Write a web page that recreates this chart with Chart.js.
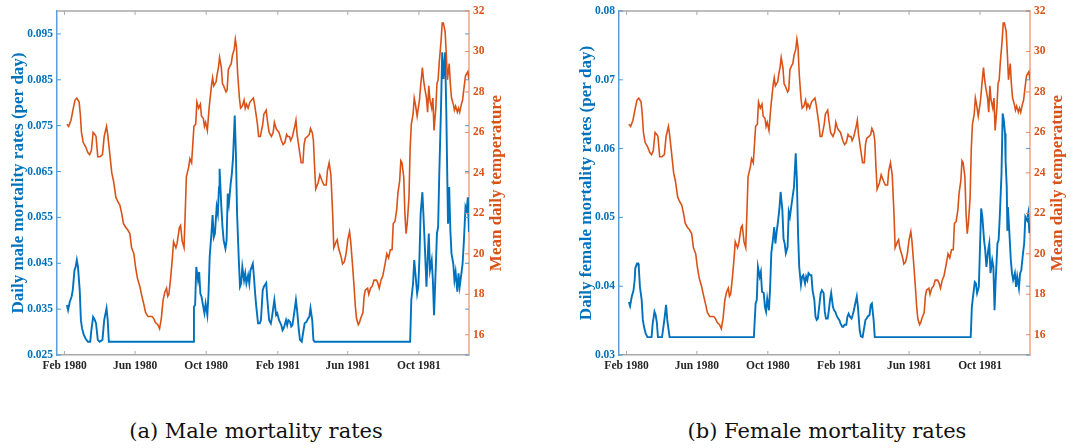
<!DOCTYPE html>
<html>
<head>
<meta charset="utf-8">
<script src="https://cdn.jsdelivr.net/npm/chart.js@4.4.1/dist/chart.umd.min.js"></script>
<style>
  body { margin: 0; background: #fff; width: 1092px; height: 448px; position: relative; overflow: hidden; }
  .panel { position: absolute; top: 0; width: 546px; height: 380px; }
  .caption { position: absolute; top: 418px; width: 400px; text-align: center;
    font-family: "DejaVu Serif", serif; font-size: 21px; line-height: 26px; color: #111; }
</style>
</head>
<body>
<div class="panel" style="left:0"><canvas id="male" width="546" height="380"></canvas></div>
<div class="panel" style="left:546px"><canvas id="female" width="546" height="380"></canvas></div>
<div class="caption" style="left:56px">(a) Male mortality rates</div>
<div class="caption" style="left:627px">(b) Female mortality rates</div>
<script>
// x values are days counted from 1 Feb 1980
const monthTickDays = [0, 121, 243, 366, 486, 608];
const monthTickLabels = ["Feb 1980", "Jun 1980", "Oct 1980", "Feb 1981", "Jun 1981", "Oct 1981"];

const tempTicks = [16, 18, 20, 22, 24, 26, 28, 30, 32];
const maleTicks = [0.025, 0.035, 0.045, 0.055, 0.065, 0.075, 0.085, 0.095];
const femaleTicks = [0.03, 0.04, 0.05, 0.06, 0.07, 0.08];

const tempDays = [
  4, 7, 11, 15, 18, 21, 25, 27, 29, 32, 36, 40,
  43, 46, 49, 52, 54, 57, 61, 65, 68, 72, 74, 77,
  81, 84, 88, 91, 95, 98, 101, 105, 108, 112, 115, 119,
  122, 125, 129, 132, 136, 139, 143, 146, 150, 153, 156, 160,
  163, 166, 169, 172, 175, 177, 179, 182, 185, 187, 191, 193,
  197, 199, 202, 205, 207, 209, 213, 215, 218, 222, 225, 227,
  230, 233, 235, 238, 240, 242, 245, 248, 252, 254, 256, 260,
  262, 264, 266, 269, 271, 273, 277, 279, 281, 284, 286, 288,
  291, 293, 295, 297, 300, 302, 305, 308, 310, 312, 315, 318,
  321, 324, 326, 328, 331, 333, 336, 340, 342, 346, 348, 351,
  355, 358, 360, 363, 365, 368, 372, 375, 378, 381, 383, 386,
  388, 391, 395, 397, 399, 403, 406, 409, 411, 413, 417, 420,
  422, 425, 427, 429, 431, 435, 438, 442, 445, 449, 451, 454,
  457, 460, 462, 466, 468, 470, 473, 475, 477, 480, 483, 486,
  489, 491, 494, 497, 499, 501, 504, 506, 508, 512, 514, 516,
  520, 522, 525, 528, 531, 535, 537, 540, 543, 546, 550, 553,
  556, 559, 562, 564, 567, 570, 572, 575, 577, 579, 582, 584,
  586, 588, 591, 593, 595, 598, 600, 602, 605, 607, 609, 611,
  614, 616, 618, 621, 623, 625, 627, 630, 632, 634, 637, 639,
  641, 643, 646, 648, 650, 653, 655, 657, 660, 662, 664, 667,
  669, 671, 674, 676, 678, 681, 683, 685, 688, 690, 692, 694
];
const tempValues = [
  26.4, 26.3, 26.6, 27.2, 27.6, 27.7, 27.5, 26.9, 26.0, 25.5, 25.3, 25.0,
  24.9, 25.1, 26.0, 25.9, 25.8, 24.8, 24.8, 24.9, 25.8, 26.3, 25.9, 25.1,
  24.0, 23.6, 22.8, 22.6, 22.4, 22.0, 21.5, 21.3, 21.2, 21.0, 20.3, 20.0,
  19.3, 18.8, 18.4, 18.0, 17.5, 17.1, 16.9, 16.9, 16.9, 16.8, 16.6, 16.5,
  16.3, 16.8, 17.7, 18.1, 18.3, 17.9, 18.0, 18.8, 19.8, 20.6, 20.3, 20.5,
  21.3, 21.4, 20.6, 20.3, 22.0, 23.8, 24.3, 24.7, 24.5, 26.3, 26.4, 27.5,
  27.2, 27.4, 26.8, 26.7, 26.3, 26.5, 26.1, 27.2, 28.3, 28.7, 28.3, 28.5,
  28.9, 29.2, 29.7, 29.2, 28.4, 28.3, 28.0, 28.1, 29.1, 29.3, 29.4, 29.8,
  30.1, 30.6, 30.2, 28.9, 27.7, 27.2, 27.3, 27.6, 27.2, 27.4, 27.2, 27.5,
  27.6, 27.7, 27.4, 27.0, 26.4, 25.8, 25.8, 26.4, 26.9, 27.1, 26.6, 26.0,
  25.8, 26.0, 26.5, 26.2, 26.1, 26.0, 25.6, 25.4, 25.5, 25.9, 25.8, 25.8,
  25.6, 25.8, 26.3, 26.6, 25.9, 25.1, 24.5, 24.5, 25.4, 25.7, 25.8, 25.9,
  26.2, 26.0, 25.6, 24.3, 23.2, 23.5, 23.9, 23.6, 23.4, 23.4, 24.1, 24.5,
  23.9, 22.0, 20.3, 20.6, 20.7, 20.3, 20.0, 19.8, 19.5, 19.6, 20.0, 20.7,
  21.1, 20.6, 19.5, 18.3, 17.4, 16.8, 16.5, 16.6, 16.8, 17.1, 17.9, 18.2,
  18.3, 18.0, 18.3, 18.4, 18.7, 18.7, 18.6, 18.3, 18.7, 18.9, 19.5, 20.0,
  19.8, 20.2, 20.2, 21.5, 21.6, 22.2, 23.0, 23.6, 24.6, 24.5, 23.8, 22.0,
  21.0, 21.5, 22.8, 25.2, 26.4, 26.9, 27.7, 27.4, 26.8, 27.2, 27.6, 28.3,
  29.2, 28.6, 28.2, 27.7, 27.0, 28.3, 27.6, 27.2, 27.7, 26.1, 27.2, 28.4,
  28.6, 29.5, 30.5, 31.4, 31.4, 31.0, 29.9, 28.6, 29.4, 28.4, 27.7, 27.4,
  27.1, 27.3, 27.0, 27.2, 27.0, 27.4, 27.6, 28.1, 28.8, 28.9, 29.0, 28.6
];

const maleDays = [
  4, 6, 9, 12, 14, 17, 19, 21, 23, 26, 28, 30,
  33, 36, 40, 44, 46, 49, 52, 54, 57, 60, 65, 68,
  72, 74, 76, 221, 222, 224, 226, 229, 231, 233, 235, 238,
  240, 242, 245, 247, 249, 252, 254, 256, 258, 261, 263, 265,
  266, 269, 271, 273, 276, 278, 280, 282, 285, 287, 289, 292,
  294, 296, 299, 301, 303, 305, 308, 310, 312, 315, 317, 319,
  323, 325, 327, 329, 332, 335, 337, 340, 342, 346, 348, 351,
  354, 356, 358, 360, 363, 365, 368, 372, 374, 376, 380, 382,
  384, 387, 389, 391, 394, 397, 399, 402, 404, 407, 410, 412,
  415, 418, 420, 422, 425, 427, 429, 593, 595, 598, 600, 602,
  605, 607, 609, 611, 614, 616, 618, 621, 623, 625, 627, 630,
  632, 634, 637, 639, 641, 643, 646, 648, 650, 653, 655, 657,
  658, 660, 662, 664, 667, 669, 671, 674, 676, 678, 681, 683,
  685, 688, 690, 692, 694
];
const maleRates = [
  0.0359, 0.0348, 0.0366, 0.0377, 0.0391, 0.0435, 0.0442, 0.0457, 0.0442, 0.0391, 0.0326, 0.0308,
  0.0294, 0.0286, 0.0279, 0.0279, 0.0304, 0.0333, 0.0326, 0.0319, 0.0283, 0.0279, 0.0283, 0.0326,
  0.0352, 0.0326, 0.0279, 0.0279, 0.0355, 0.0359, 0.0442, 0.0413, 0.0431, 0.0384, 0.0377, 0.0355,
  0.0341, 0.0362, 0.0337, 0.0384, 0.0464, 0.0515, 0.0555, 0.0507, 0.0515, 0.0573, 0.0558, 0.0616,
  0.0656, 0.0573, 0.0529, 0.0500, 0.0482, 0.0500, 0.0602, 0.0580, 0.0623, 0.0645, 0.0678, 0.0772,
  0.0689, 0.0558, 0.0457, 0.0399, 0.0406, 0.0442, 0.0413, 0.0428, 0.0406, 0.0424, 0.0406, 0.0435,
  0.0449, 0.0420, 0.0384, 0.0355, 0.0319, 0.0319, 0.0326, 0.0391, 0.0399, 0.0407, 0.0370, 0.0326,
  0.0319, 0.0333, 0.0352, 0.0370, 0.0337, 0.0341, 0.0326, 0.0315, 0.0304, 0.0308, 0.0326, 0.0315,
  0.0326, 0.0322, 0.0312, 0.0315, 0.0341, 0.0370, 0.0348, 0.0304, 0.0283, 0.0279, 0.0304, 0.0319,
  0.0322, 0.0330, 0.0333, 0.0352, 0.0326, 0.0283, 0.0279, 0.0279, 0.0370, 0.0406, 0.0457, 0.0428,
  0.0384, 0.0399, 0.0464, 0.0558, 0.0605, 0.0551, 0.0493, 0.0399, 0.0457, 0.0515, 0.0435, 0.0457,
  0.0413, 0.0337, 0.0442, 0.0515, 0.0529, 0.0645, 0.0790, 0.0910, 0.0852, 0.0910, 0.0783, 0.0616,
  0.0536, 0.0616, 0.0522, 0.0471, 0.0449, 0.0413, 0.0431, 0.0388, 0.0428, 0.0399, 0.0428, 0.0449,
  0.0493, 0.0573, 0.0565, 0.0594, 0.0518
];

const femaleDays = [
  4, 6, 9, 12, 14, 15, 18, 20, 21, 23, 26, 28,
  30, 33, 36, 43, 45, 48, 50, 52, 54, 61, 65, 68,
  70, 74, 219, 222, 224, 226, 229, 231, 233, 236, 238, 240,
  242, 245, 247, 249, 252, 254, 256, 258, 261, 263, 265, 268,
  270, 272, 274, 277, 279, 281, 284, 286, 288, 291, 293, 295,
  297, 300, 302, 304, 307, 309, 311, 313, 316, 318, 320, 323,
  325, 327, 329, 332, 334, 336, 339, 341, 343, 346, 348, 350,
  352, 355, 357, 359, 362, 364, 366, 368, 371, 373, 375, 378,
  380, 382, 384, 387, 389, 391, 394, 396, 398, 401, 403, 406,
  409, 411, 413, 415, 418, 420, 422, 425, 427, 592, 594, 596,
  599, 601, 603, 606, 608, 610, 612, 615, 617, 619, 622, 624,
  626, 629, 631, 633, 635, 638, 640, 642, 645, 647, 649, 651,
  652, 654, 655, 656, 658, 661, 663, 665, 668, 670, 672, 675,
  677, 679, 682, 684, 686, 689, 691, 693
];
const femaleRates = [
  0.0377, 0.0371, 0.0385, 0.0394, 0.0409, 0.0426, 0.0433, 0.0433, 0.0428, 0.0399, 0.0380, 0.0351,
  0.0341, 0.0331, 0.0326, 0.0326, 0.0346, 0.0363, 0.0358, 0.0348, 0.0326, 0.0326, 0.0351, 0.0373,
  0.0351, 0.0326, 0.0326, 0.0375, 0.0380, 0.0428, 0.0414, 0.0421, 0.0392, 0.0390, 0.0370, 0.0363,
  0.0382, 0.0365, 0.0399, 0.0448, 0.0469, 0.0486, 0.0462, 0.0477, 0.0498, 0.0513, 0.0537, 0.0511,
  0.0469, 0.0462, 0.0448, 0.0457, 0.0508, 0.0501, 0.0520, 0.0532, 0.0544, 0.0593, 0.0554, 0.0477,
  0.0428, 0.0402, 0.0414, 0.0416, 0.0404, 0.0414, 0.0409, 0.0419, 0.0416, 0.0416, 0.0394, 0.0380,
  0.0356, 0.0351, 0.0353, 0.0375, 0.0390, 0.0394, 0.0390, 0.0363, 0.0353, 0.0353, 0.0365, 0.0380,
  0.0390, 0.0370, 0.0365, 0.0363, 0.0356, 0.0353, 0.0351, 0.0346, 0.0341, 0.0341, 0.0344, 0.0344,
  0.0356, 0.0360, 0.0356, 0.0353, 0.0358, 0.0365, 0.0377, 0.0385, 0.0370, 0.0336, 0.0327, 0.0326,
  0.0341, 0.0351, 0.0353, 0.0356, 0.0358, 0.0373, 0.0375, 0.0351, 0.0326, 0.0326, 0.0370, 0.0385,
  0.0406, 0.0404, 0.0390, 0.0399, 0.0457, 0.0513, 0.0501, 0.0467, 0.0452, 0.0428, 0.0452, 0.0462,
  0.0419, 0.0438, 0.0428, 0.0365, 0.0409, 0.0462, 0.0467, 0.0501, 0.0564, 0.0651, 0.0641, 0.0622,
  0.0583, 0.0544, 0.0482, 0.0515, 0.0486, 0.0438, 0.0419, 0.0409, 0.0419, 0.0399, 0.0414, 0.0397,
  0.0419, 0.0423, 0.0448, 0.0462, 0.0501, 0.0496, 0.0506, 0.0477
];

const BLUE = "#0072BD";
const ORANGE = "#D95319";
const SERIF = "'Liberation Serif', 'Times New Roman', serif";

function toPoints(xs, ys) {
	return xs.map((x, i) => ({ x: x, y: ys[i] }));
}

// MATLAB-like frame: top border and inward tick marks
const frameMarks = {
	id: "frameMarks",
	afterDraw(chart) {
		const { ctx, chartArea: a, scales } = chart;
		const len = 4;
		ctx.save();
		ctx.strokeStyle = "#a9a9a9";
		ctx.lineWidth = 1.5;
		ctx.beginPath();
		ctx.moveTo(a.left, a.top);
		ctx.lineTo(a.right, a.top);
		ctx.stroke();
		ctx.lineWidth = 1;
		scales.x.ticks.forEach((t) => {
			const px = scales.x.getPixelForValue(t.value);
			ctx.beginPath();
			ctx.moveTo(px, a.bottom);
			ctx.lineTo(px, a.bottom - len);
			ctx.moveTo(px, a.top);
			ctx.lineTo(px, a.top + len);
			ctx.stroke();
		});
		ctx.strokeStyle = "#4f98d3";
		scales.yRate.ticks.forEach((t) => {
			const py = scales.yRate.getPixelForValue(t.value);
			ctx.beginPath();
			ctx.moveTo(a.left, py);
			ctx.lineTo(a.left + len, py);
			ctx.moveTo(a.right - len, py);
			ctx.lineTo(a.right, py);
			ctx.stroke();
		});
		ctx.strokeStyle = "#e58a62";
		scales.yTemp.ticks.forEach((t) => {
			const py = scales.yTemp.getPixelForValue(t.value);
			ctx.beginPath();
			ctx.moveTo(a.right - len, py);
			ctx.lineTo(a.right, py);
			ctx.stroke();
		});
		// right axis title reads bottom to top, as in the original
		ctx.fillStyle = ORANGE;
		ctx.font = "bold 17px " + SERIF;
		ctx.textAlign = "center";
		ctx.textBaseline = "middle";
		ctx.translate(a.right + 28, (a.top + a.bottom) / 2);
		ctx.rotate(-Math.PI / 2);
		ctx.fillText("Mean daily temperature", 0, 0);
		ctx.restore();
	},
};

function makeChart(id, days, rates, rateTicks, digits, rateMin, rateMax, rateTitle, widths, titlePad) {
	const ctx = document.getElementById(id).getContext("2d");
	const tickFont = { family: SERIF, size: 11.5, weight: "bold" };
	return new Chart(ctx, {
		type: "line",
		data: {
			datasets: [
				{
					label: "Mean daily temperature",
					data: toPoints(tempDays, tempValues),
					yAxisID: "yTemp",
					borderColor: ORANGE,
					borderWidth: 1.6,
					pointRadius: 0,
					tension: 0,
					order: 0,
				},
				{
					label: rateTitle,
					data: toPoints(days, rates),
					yAxisID: "yRate",
					borderColor: BLUE,
					borderWidth: 1.9,
					pointRadius: 0,
					tension: 0,
					order: 1,
				},
			],
		},
		options: {
			responsive: false,
			animation: false,
			layout: { padding: { top: 11, left: 0, right: 0, bottom: 0 } },
			plugins: { legend: { display: false }, tooltip: { enabled: false } },
			scales: {
				x: {
					type: "linear",
					min: -13,
					max: 694,
					afterBuildTicks: (scale) => {
						scale.ticks = monthTickDays.map((v) => ({ value: v }));
					},
					afterFit: (scale) => {
						scale.height = 25;
					},
					ticks: {
						callback: (v) => monthTickLabels[monthTickDays.indexOf(v)],
						font: tickFont,
						color: "#262626",
						padding: 4,
						maxRotation: 0,
						autoSkip: false,
					},
					grid: { display: false, drawTicks: false },
					border: { color: "#a9a9a9", width: 1.5 },
				},
				yRate: {
					position: "left",
					min: rateMin,
					max: rateMax,
					afterBuildTicks: (scale) => {
						scale.ticks = rateTicks.map((v) => ({ value: v }));
					},
					afterFit: (scale) => {
						scale.width = widths[0];
					},
					ticks: {
						callback: (v) => v.toFixed(digits),
						font: tickFont,
						color: BLUE,
						padding: 4,
					},
					title: {
						display: true,
						text: rateTitle,
						color: BLUE,
						font: { family: SERIF, size: 17, weight: "bold" },
						padding: { top: titlePad, bottom: 0 },
					},
					grid: { display: false, drawTicks: false },
					border: { color: "#5b9fd6", width: 1.5 },
				},
				yTemp: {
					position: "right",
					min: 15,
					max: 32,
					afterBuildTicks: (scale) => {
						scale.ticks = tempTicks.map((v) => ({ value: v }));
					},
					afterFit: (scale) => {
						scale.width = widths[1];
					},
					ticks: {
						font: tickFont,
						color: ORANGE,
						padding: 4,
					},
					grid: { display: false, drawTicks: false },
					border: { color: "#f3bba3", width: 2 },
				},
			},
		},
		plugins: [frameMarks],
	});
}

makeChart("male", maleDays, maleRates, maleTicks, 3, 0.025, 0.1,
	"Daily male mortality rates (per day)", [57, 77], 8);
makeChart("female", femaleDays, femaleRates, femaleTicks, 2, 0.03, 0.08,
	"Daily female mortality rates (per day)", [73, 62], 30);
</script>
</body>
</html>
